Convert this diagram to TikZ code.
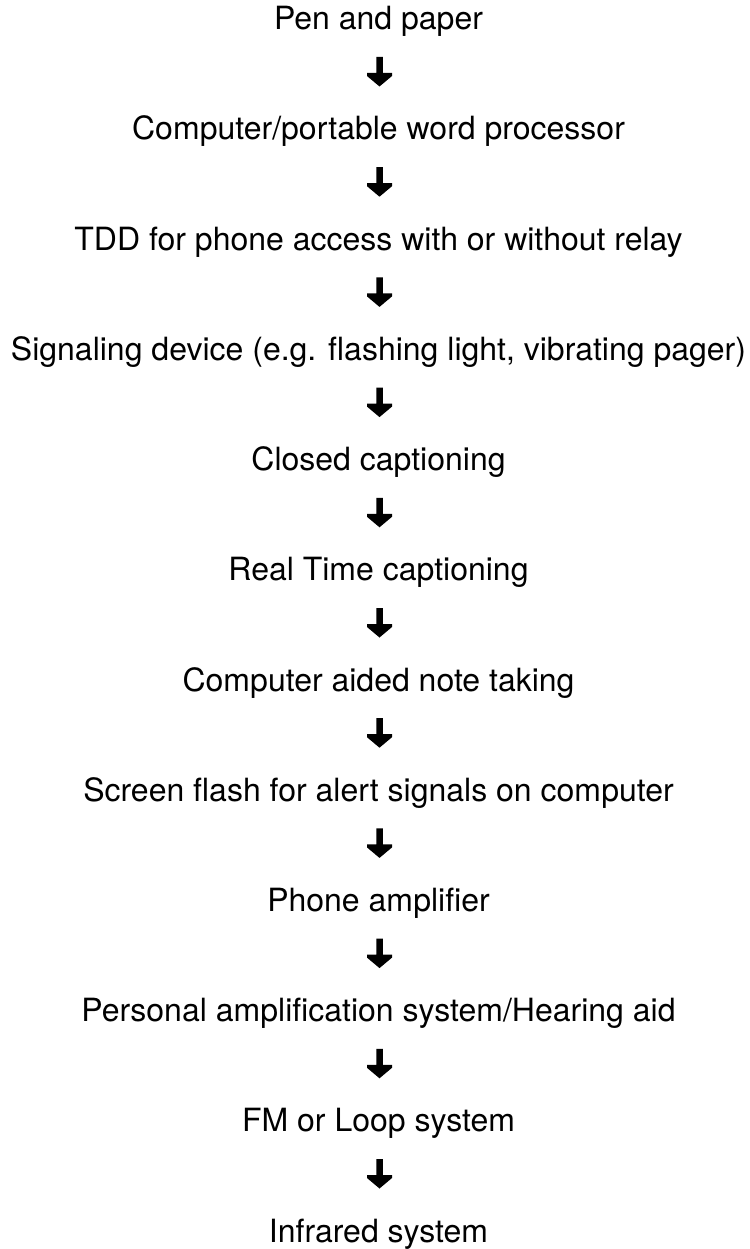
\documentclass[tikz,border=0pt]{standalone}
\usepackage{fontspec}
\setmainfont{TeX Gyre Heros}
\begin{document}
\begin{tikzpicture}[x=1pt,y=-1pt,
  lbl/.style={anchor=base, inner sep=0pt, font=\fontsize{32}{38}\selectfont},
  arrowglyph/.style={fill=black}]
\useasboundingbox (0,0) rectangle (749,1249);
\foreach \t [count=\i from 0] in {Pen and paper, Computer/portable word processor, TDD for phone access with or without relay, {Signaling device (e.g. flashing light, vibrating pager)}, Closed captioning, Real Time captioning, Computer aided note taking, Screen flash for alert signals on computer, Phone amplifier, Personal amplification system/Hearing aid, FM or Loop system, Infrared system}
{
  \node[lbl] (n\i) at (378.5, 29.8+110.2*\i) {\t};
}
\foreach \i in {0,...,10}
{
  \fill[arrowglyph, shift={(n\i.base)}]
    (-2.25,27.2) -- (4.25,27.2) -- (4.25,43.2) -- (13.5,43.2) -- (13.5,46.2)
    -- (1,56.7) -- (-11.5,46.2) -- (-11.5,43.2) -- (-2.25,43.2) -- cycle;
}
\end{tikzpicture}
\end{document}
